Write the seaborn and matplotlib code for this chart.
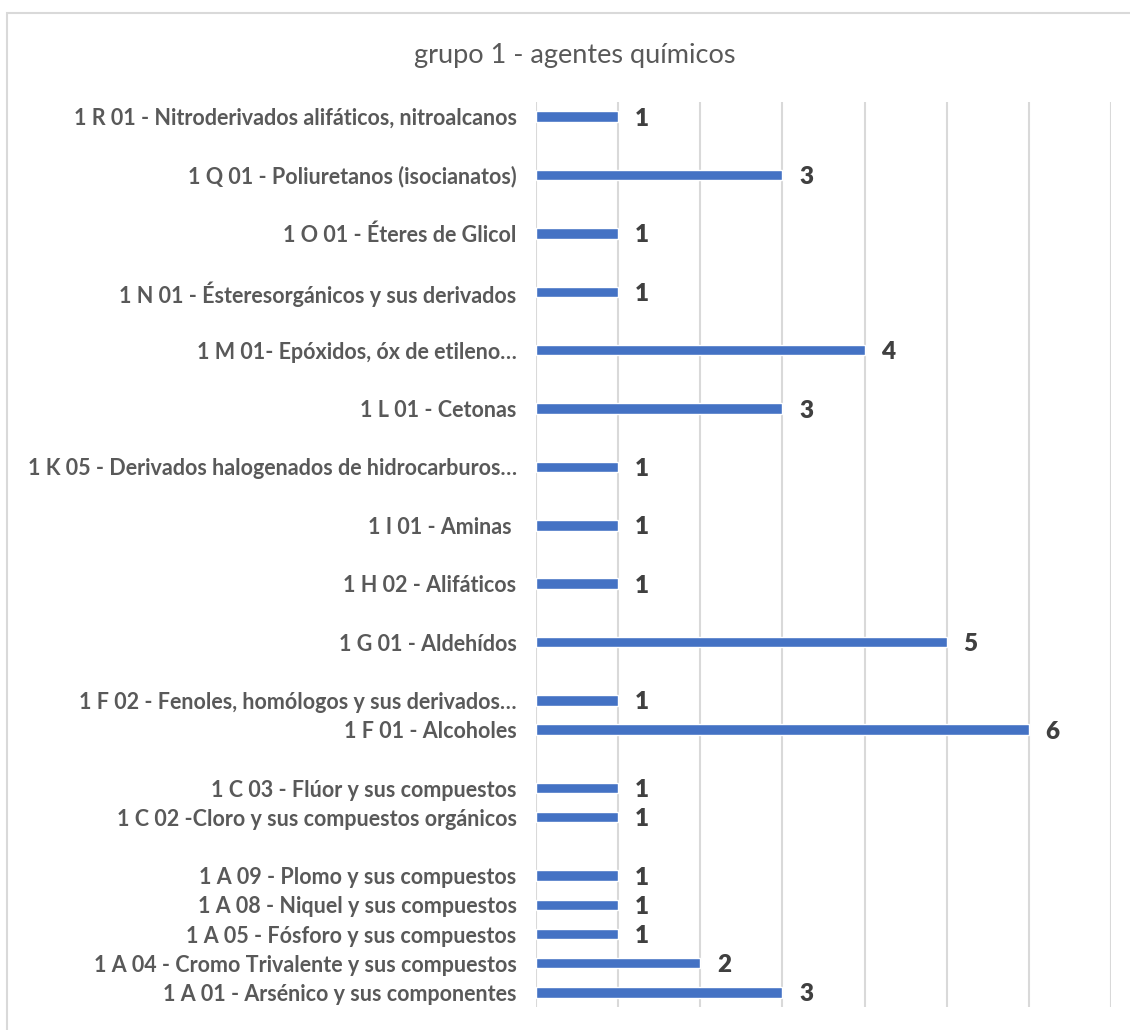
import matplotlib
matplotlib.use("Agg")
import matplotlib.pyplot as plt
import seaborn as sns
import pandas as pd

# Category slots from top to bottom; None marks an empty slot in the axis
categories = [
    "1 R 01 - Nitroderivados alifáticos, nitroalcanos",
    None,
    "1 Q 01 - Poliuretanos (isocianatos)",
    None,
    "1 O 01 - Éteres de Glicol",
    None,
    "1 N 01 - Ésteresorgánicos y sus derivados",
    None,
    "1 M 01- Epóxidos, óx de etileno…",
    None,
    "1 L 01 - Cetonas",
    None,
    "1 K 05 - Derivados halogenados de hidrocarburos…",
    None,
    "1 I 01 - Aminas ",
    None,
    "1 H 02 - Alifáticos",
    None,
    "1 G 01 - Aldehídos",
    None,
    "1 F 02 - Fenoles, homólogos y sus derivados…",
    "1 F 01 - Alcoholes",
    None,
    "1 C 03 - Flúor y sus compuestos",
    "1 C 02 -Cloro y sus compuestos orgánicos",
    None,
    "1 A 09 - Plomo y sus compuestos",
    "1 A 08 - Niquel y sus compuestos",
    "1 A 05 - Fósforo y sus compuestos",
    "1 A 04 - Cromo Trivalente y sus compuestos",
    "1 A 01 - Arsénico y sus componentes",
]
counts = [1, 3, 1, 1, 4, 3, 1, 1, 1, 5, 1, 6, 1, 1, 1, 1, 1, 2, 3]
title = "grupo 1 - agentes químicos"

# Unique keys so empty slots keep their place on the categorical axis
keys = [c if c is not None else f"__gap{i}" for i, c in enumerate(categories)]
names = [c for c in categories if c is not None]
df = pd.DataFrame({"categoria": names, "casos": counts})

sns.set_theme(style="white")
plt.rcParams["font.family"] = ["Lato", "DejaVu Sans"]

fig = plt.figure(figsize=(11.3, 10.3), dpi=100)
ax = fig.add_axes([536 / 1130, 1 - 1007 / 1030, (1111 - 536) / 1130, (1007 - 102) / 1030])

sns.barplot(data=df, x="casos", y="categoria", order=keys, orient="h",
            color="#4472C4", saturation=1, width=0.36, ax=ax)

ax.set_xlim(0, 7)
ax.set_ylim(len(keys) - 0.5, -0.5)
ax.set_xticks(range(0, 8))
ax.set_xticklabels([])
ax.tick_params(axis="x", length=0)
ax.grid(axis="x", color="#D9D9D9", linewidth=1.5)
ax.set_axisbelow(True)
for s in ax.spines.values():
    s.set_visible(False)

ax.set_yticks(range(len(keys)))
ax.set_yticklabels([c if c is not None else "" for c in categories],
                   fontsize=15.5, fontweight="bold", color="#595959")
ax.tick_params(axis="y", length=0, pad=14)
ax.set_xlabel("")
ax.set_ylabel("")

for cont in ax.containers:
    labels = ax.bar_label(cont, fmt="%d", padding=12, fontsize=17.5,
                          fontweight="heavy", color="#404040")
    for t in labels:
        t.set_va("center_baseline")

fig.text(575 / 1130, 1 - 55 / 1030, title, ha="center", va="center",
         fontsize=19.5, color="#595959")

# chart area outline (top and left edges visible)
fig.add_artist(plt.Rectangle((7 / 1130, -0.1), 1.2, 1 - 13 / 1030 + 0.1,
                             transform=fig.transFigure, fill=False,
                             edgecolor="#D9D9D9", linewidth=1.5))

fig.savefig("out.png", dpi=100, facecolor="white")
